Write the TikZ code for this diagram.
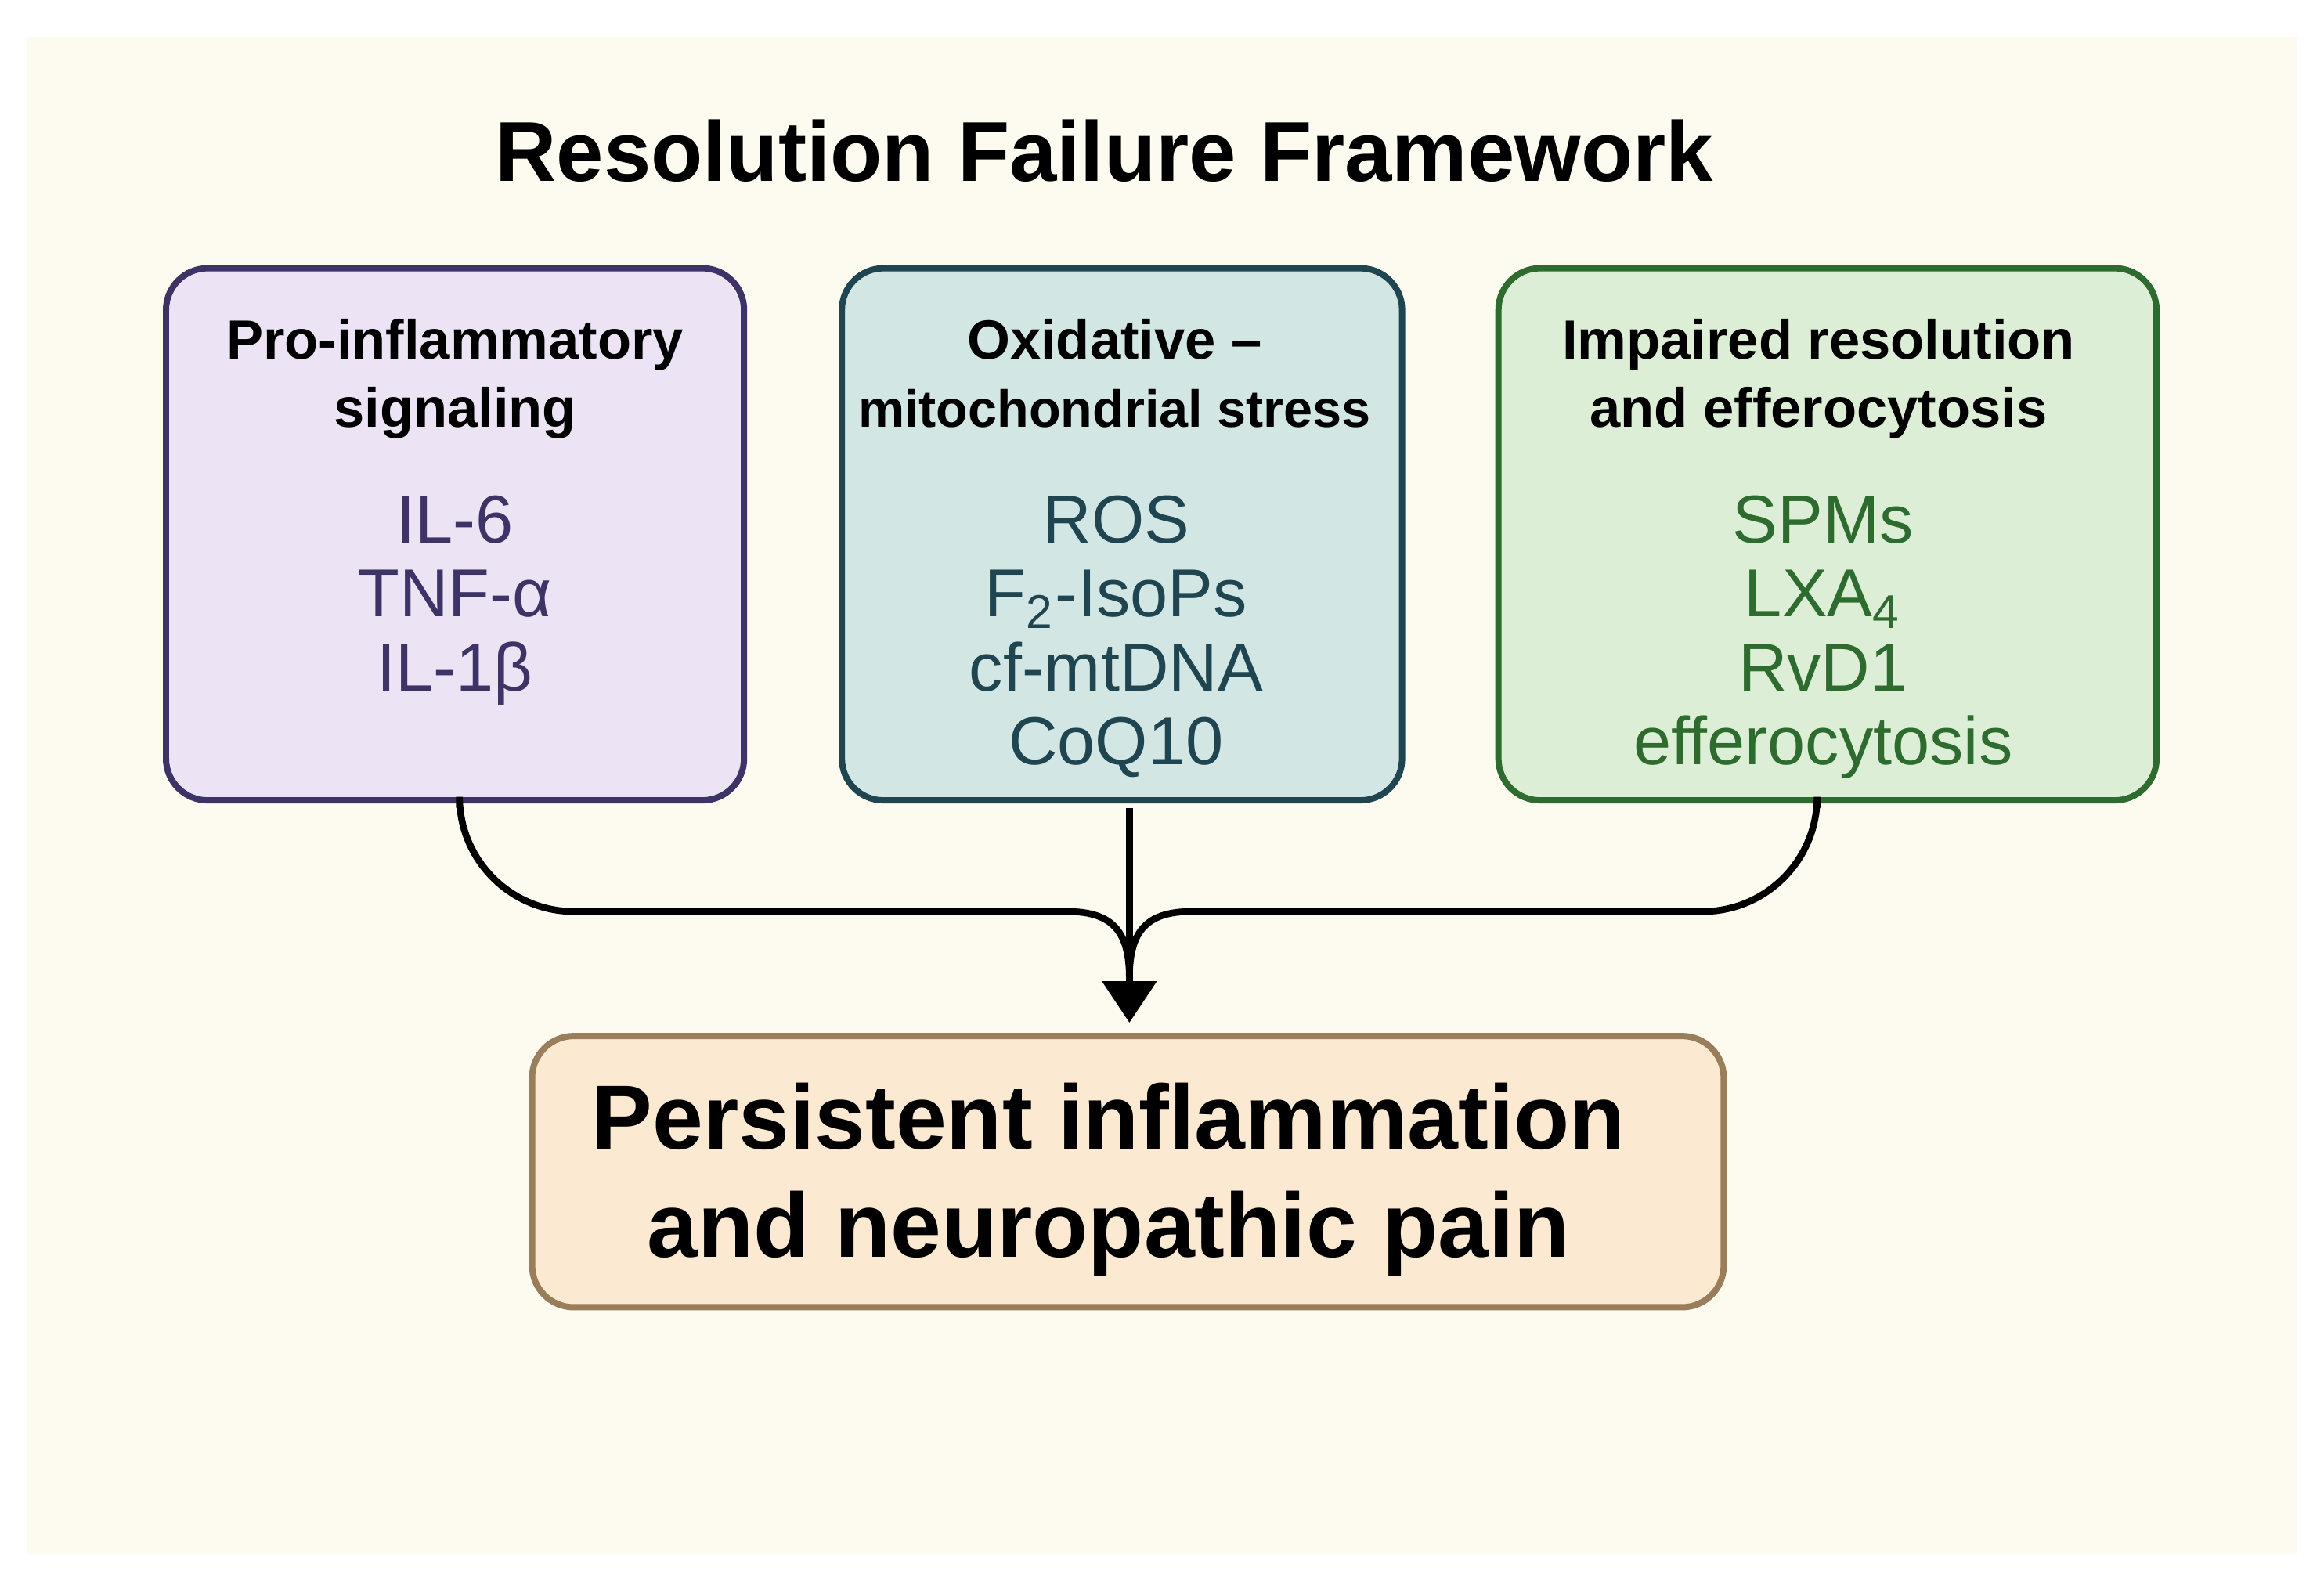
\documentclass[tikz,border=0pt]{standalone}
\usepackage{fontspec}
\setmainfont{Liberation Sans}
\usetikzlibrary{arrows.meta}
\definecolor{cream}{HTML}{FDFAEF}
\definecolor{lavf}{HTML}{ECE4F4}\definecolor{lavd}{HTML}{3E3366}
\definecolor{teaf}{HTML}{D2E6E4}\definecolor{tead}{HTML}{1F4550}
\definecolor{grnf}{HTML}{DDEED6}\definecolor{grnd}{HTML}{2E6B2E}
\definecolor{orf}{HTML}{FCE9D2}\definecolor{ord}{HTML}{9A7D5A}
\begin{document}
\begin{tikzpicture}[x=0.01cm,y=-0.01cm,
  box/.style={draw,line width=1.2pt,rounded corners=8pt},
  head/.style={font=\fontsize{10.6}{13}\selectfont\bfseries,align=center},
  body/.style={font=\fontsize{13}{14.2}\selectfont,align=center},
  conn/.style={line width=1.3pt,rounded corners=22pt}]
\useasboundingbox (0,0) rectangle (1568,1064);
\fill[white] (0,0) rectangle (1568,1064);
\fill[cream] (18,25) rectangle (1550,1048);
\node[font=\fontsize{16.3}{18}\selectfont\bfseries] (title) at (745,102) {Resolution Failure Framework};
\draw[box,draw=lavd,fill=lavf] (112,181) rectangle (502,540);
\draw[box,draw=tead,fill=teaf] (568,181) rectangle (946,540);
\draw[box,draw=grnd,fill=grnf] (1011,181) rectangle (1455,540);
\draw[box,draw=ord,fill=orf] (359,699) rectangle (1163,882);
\node[head,anchor=north] (h1) at (307,203) {Pro-inflammatory\\signaling};
\node[head,anchor=north] (h2) at (752,203) {Oxidative –\\\fontsize{10}{13}\selectfont mitochondrial stress};
\node[head,anchor=north] (h3) at (1227,203) {Impaired resolution\\and efferocytosis};
\node[body,anchor=north,text=lavd] (b1) at (307,322) {IL-6\\TNF-α\\IL-1β};
\node[body,anchor=north,text=tead] (b2) at (753,322) {ROS\\F\textsubscript{2}-IsoPs\\cf-mtDNA\\CoQ10};
\node[body,anchor=north,text=grnd] (b3) at (1230,322) {SPMs\\LXA\textsubscript{4}\\RvD1\\efferocytosis};
\node[font=\fontsize{17.5}{20.7}\selectfont\bfseries,align=center] (p) at (748,796) {Persistent inflammation\\and neuropathic pain};
\coordinate (s1) at (310,545);
\coordinate (s2) at (762,545);
\coordinate (s3) at (1226,545);
\coordinate (m) at (762,660);
\coordinate (t) at (762,690);
\draw[conn] (s1) -- (310,615) -- (720,615);
\draw[line width=1.3pt] (720,615) .. controls (752,615) and (762,630) .. (m);
\draw[conn] (s3) -- (1226,615) -- (804,615);
\draw[line width=1.3pt] (804,615) .. controls (772,615) and (762,630) .. (m);
\draw[line width=1.3pt,-{Triangle[length=0.28cm,width=0.36cm]}] (s2) -- (t);
\end{tikzpicture}
\end{document}
